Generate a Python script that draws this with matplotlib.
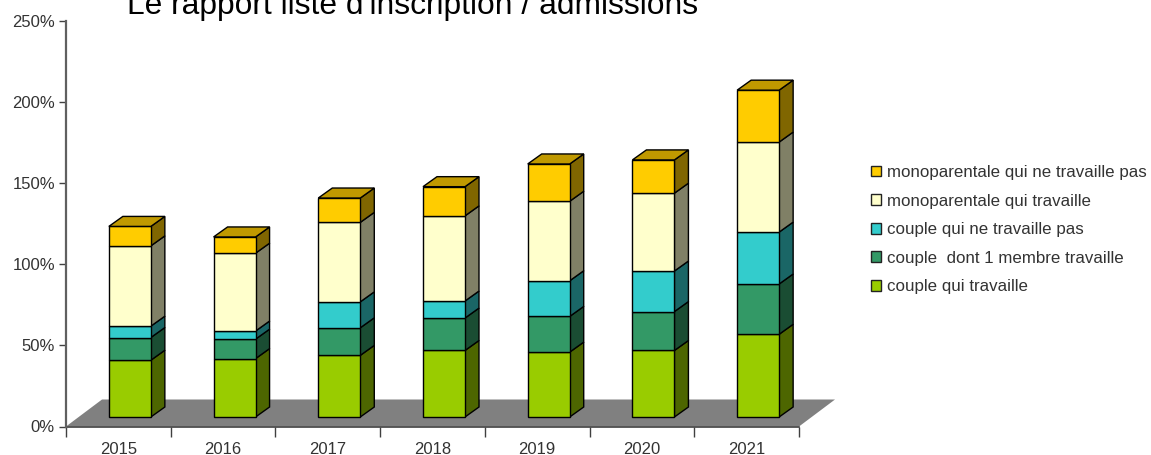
import numpy as np
import matplotlib
matplotlib.use('Agg')
import matplotlib.pyplot as plt
from matplotlib.patches import Polygon, Patch

plt.rcParams['font.family'] = ['Liberation Sans', 'DejaVu Sans']

years = ['2015', '2016', '2017', '2018', '2019', '2020', '2021']
couple_travaille = [35, 36, 38, 41, 40, 41, 51]
couple_un_membre = [14, 12, 17, 20, 22, 24, 31]
couple_sans = [7, 5, 16, 10.5, 22, 25, 32]
mono_travaille = [49.5, 48, 49, 52.5, 49, 48, 55.5]
mono_sans = [12, 10, 15, 18, 23, 20.5, 32]
yticks = [0, 50, 100, 150, 200, 250]

series = [couple_travaille, couple_un_membre, couple_sans, mono_travaille, mono_sans]
labels = ['couple qui travaille', 'couple  dont 1 membre travaille', 'couple qui ne travaille pas',
          'monoparentale qui travaille', 'monoparentale qui ne travaille pas']
front = ['#99CC00', '#339966', '#33CCCC', '#FFFFCC', '#FFCC00']
side = ['#4D6600', '#1A4D33', '#1A6666', '#808066', '#806600']
top_col = '#C09900'

W, H = 1151, 455
fig = plt.figure(figsize=(W / 100, H / 100), dpi=100)
ax = fig.add_axes([66 / W, 1 - 426.5 / H, (799 - 66) / W, (426.5 - 21) / H])
ax.set_xlim(0, 7)
ax.set_ylim(0, 250)
ax.patch.set_visible(False)

# 3d look, offsets in data units
px = 7 / (799 - 66)
py = 250 / (426.5 - 21)
floor_dx, floor_dy = 36 * px, 27 * py
bar_w = 42 * px
off_x, off_y = 11.5 * px, 9.5 * py
dep_x, dep_y = 14 * px, 10 * py

ax.add_patch(Polygon([(0, 0), (7, 0), (7 + floor_dx, floor_dy), (floor_dx, floor_dy)],
                     closed=True, fc='#808080', ec='none', clip_on=False, zorder=1))

for i in range(len(years)):
    x0 = i + 0.5 + off_x - bar_w / 2
    x1 = x0 + bar_w
    bottom = off_y
    for s in range(len(series)):
        t = bottom + series[s][i]
        ax.add_patch(Polygon([(x1, bottom), (x1 + dep_x, bottom + dep_y), (x1 + dep_x, t + dep_y), (x1, t)],
                             closed=True, fc=side[s], ec='black', lw=1, clip_on=False, zorder=3))
        ax.add_patch(Polygon([(x0, bottom), (x1, bottom), (x1, t), (x0, t)],
                             closed=True, fc=front[s], ec='black', lw=1, clip_on=False, zorder=3))
        bottom = t
    ax.add_patch(Polygon([(x0, bottom), (x1, bottom), (x1 + dep_x, bottom + dep_y), (x0 + dep_x, bottom + dep_y)],
                         closed=True, fc=top_col, ec='black', lw=1, clip_on=False, zorder=3))

for sp in ['top', 'right']:
    ax.spines[sp].set_visible(False)
ax.spines['left'].set_color('#606060')
ax.spines['left'].set_linewidth(1.6)
ax.spines['bottom'].set_color('#404040')
ax.spines['bottom'].set_linewidth(1.2)
ax.spines['bottom'].set_zorder(2)

ax.set_yticks(yticks)
ax.set_yticklabels([str(v) + '%' for v in yticks], fontsize=12, color='#333333')
ax.tick_params(axis='y', length=5, width=1, color='#404040', pad=3)
ax.set_xticks(range(8))
ax.set_xticklabels([])
ax.tick_params(axis='x', which='major', length=7, width=1, color='#404040')
ax.set_xticks(np.arange(7) + 0.5, minor=True)
ax.set_xticklabels(years, minor=True, fontsize=12, color='#333333')
ax.tick_params(axis='x', which='minor', length=0, pad=11)

fig.text(127 / W, 1 - 14 / H, "Le rapport liste d'inscription / admissions", fontsize=22.9,
         color='black', ha='left', va='baseline')

handles = [Patch(fc=front[s], ec='#222222', lw=1) for s in range(len(series) - 1, -1, -1)]
fig.legend(handles, labels[::-1], loc='upper left', bbox_to_anchor=(871 / W, 1 - 165 / H),
           frameon=False, fontsize=12.2, handlelength=0.6, handleheight=0.6, handletextpad=0.32,
           labelspacing=0.8, labelcolor='#333333', borderpad=0, borderaxespad=0)

fig.savefig('out.png', dpi=100)
